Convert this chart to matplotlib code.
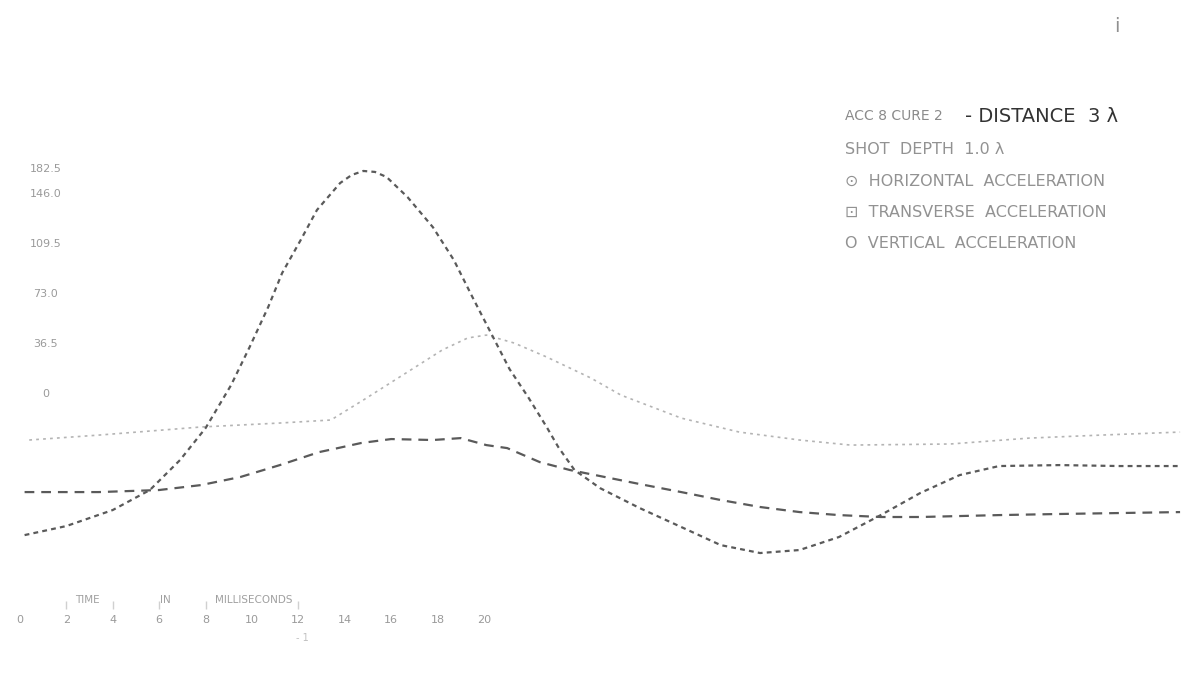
import matplotlib
matplotlib.use("Agg")
import matplotlib.pyplot as plt
import matplotlib.transforms as mtransforms

plt.rcParams['font.family'] = ['DejaVu Sans']
plt.rcParams['lines.scale_dashes'] = False

# ---- data (time in ms, acceleration in chart units) ----
horiz_t = [0.2, 2.0, 4.0, 5.6, 6.9, 8.0, 9.1, 9.9, 10.7, 11.3, 12.1, 12.8, 13.8,
           14.3, 14.8, 15.3, 15.8, 16.7, 17.8, 18.7, 19.5, 20.3, 21.1, 21.9, 22.7,
           23.2, 23.9, 25.0, 26.7, 28.5, 30.2, 31.9, 33.6, 35.3, 37.1, 38.8, 40.5,
           42.2, 44.8, 47.4, 50.0]
horiz_v = [-103.7, -97.1, -85.4, -70.8, -48.9, -25.6, 5.8, 33.6, 62.8, 87.6, 111.7,
           133.6, 153.3, 159.2, 162.1, 161.4, 157.7, 143.1, 121.0, 97.1, 70.1, 43.8,
           17.5, -2.9, -24.8, -39.4, -56.2, -69.4, -83.9, -97.8, -111.0, -116.8,
           -114.6, -105.1, -89.1, -73.0, -59.9, -53.3, -52.6, -53.3, -53.3]

trans_t = [0.2, 3.4, 6.0, 7.8, 9.5, 11.2, 12.9, 13.7, 14.7, 16.0, 17.8, 19.0, 20.1,
           21.0, 22.4, 23.7, 25.0, 26.7, 28.5, 30.2, 31.9, 33.6, 35.3, 37.1, 38.8,
           40.5, 42.2, 44.8, 47.4, 50.0]
trans_v = [-72.3, -72.3, -70.8, -67.2, -61.3, -52.6, -43.1, -40.2, -36.5, -33.6,
           -34.3, -32.9, -38.0, -40.2, -50.4, -56.2, -60.6, -66.4, -72.3, -78.1,
           -83.2, -86.9, -89.1, -90.5, -90.5, -89.8, -89.1, -88.3, -87.6, -86.9]

vert_t = [0.4, 3.4, 7.8, 11.2, 13.4, 14.8, 16.3, 18.2, 19.3, 20.1, 21.3, 22.7, 24.6,
          25.9, 28.5, 31.0, 33.6, 35.8, 40.1, 43.5, 46.6, 50.0]
vert_v = [-34.3, -30.7, -24.8, -21.9, -19.7, -5.1, 11.0, 31.4, 40.2, 42.3, 36.5,
          26.3, 11.0, -1.5, -18.3, -28.5, -34.3, -38.0, -37.2, -32.9, -30.7, -28.5]

x_ticks = [0, 2, 4, 6, 8, 10, 12, 14, 16, 18, 20]
x_ticklabels = ['0', '2', '4', '6', '8', '10', '12', '14', '16', '18', '20']
y_ticks = [0, 36.5, 73.0, 109.5, 146.0, 182.5]
y_ticklabels = ['0', '36.5', '73.0', '109.5', '146.0', '182.5']

title_small = "ACC 8 CURE 2"
title_big = "- DISTANCE  3 λ"
legend_lines = ["SHOT  DEPTH  1.0 λ",
                "⊙  HORIZONTAL  ACCELERATION",
                "⊡  TRANSVERSE  ACCELERATION",
                "O  VERTICAL  ACCELERATION"]
xlabel_words = ["TIME", "IN", "MILLISECONDS"]

# ---- figure ----
W, H = 1181, 684
fig = plt.figure(figsize=(W / 100, H / 100), dpi=100)
ax = fig.add_axes([0, 0, 1, 1])
ax.set_xlim(-0.86, 50.04)
ax.set_ylim(-212.4, 286.9)
for s in ax.spines.values():
    s.set_visible(False)

ax.plot(vert_t, vert_v, color='#b4b4b4', lw=1.2, dashes=(2, 3))
ax.plot(trans_t, trans_v, color='#5a5a5a', lw=1.6, dashes=(7, 5))
ax.plot(horiz_t, horiz_v, color='#5a5a5a', lw=1.6, dashes=(3.5, 3))

# x ticks (labels drawn inside the figure area)
ax.set_xticks(x_ticks)
ax.set_xticklabels(x_ticklabels, color='#9a9a9a', fontsize=8)
ax.tick_params(axis='x', length=0, pad=-50)
blend = mtransforms.blended_transform_factory(ax.transData, ax.transAxes)
ax.vlines([2, 4, 6, 8, 12], 0.11, 0.122, transform=blend, color='#d0d0d0', lw=1)

ax.set_yticks(y_ticks)
ax.set_yticklabels(y_ticklabels, color='#9a9a9a', fontsize=8, ha='center')
ax.tick_params(axis='y', length=0, pad=-33)
top_lbl = ax.get_yticklabels()[-1]
top_lbl.set_transform(top_lbl.get_transform() +
                      mtransforms.ScaledTranslation(0, -0.25, fig.dpi_scale_trans))

def fx(px):
    return px / W

def fy(py):
    return 1 - py / H

for word, px in zip(xlabel_words, [75, 160, 215]):
    fig.text(fx(px), fy(600), word, color='#a0a0a0', fontsize=7.5, va='center')
fig.text(fx(296), fy(638), "- 1", color='#c0c0c0', fontsize=7, va='center')

fig.text(fx(845), fy(116), title_small, color='#8a8a8a', fontsize=10, va='center')
fig.text(fx(965), fy(116), title_big, color='#333333', fontsize=14, va='center')
for i, line in enumerate(legend_lines):
    fig.text(fx(845), fy(150 + 31 * i), line, color='#929292', fontsize=11.5,
             va='center')
fig.text(fx(1114), fy(26), "i", color='#909090', fontsize=14, va='center')

fig.savefig("out.png", dpi=100, facecolor='white')
